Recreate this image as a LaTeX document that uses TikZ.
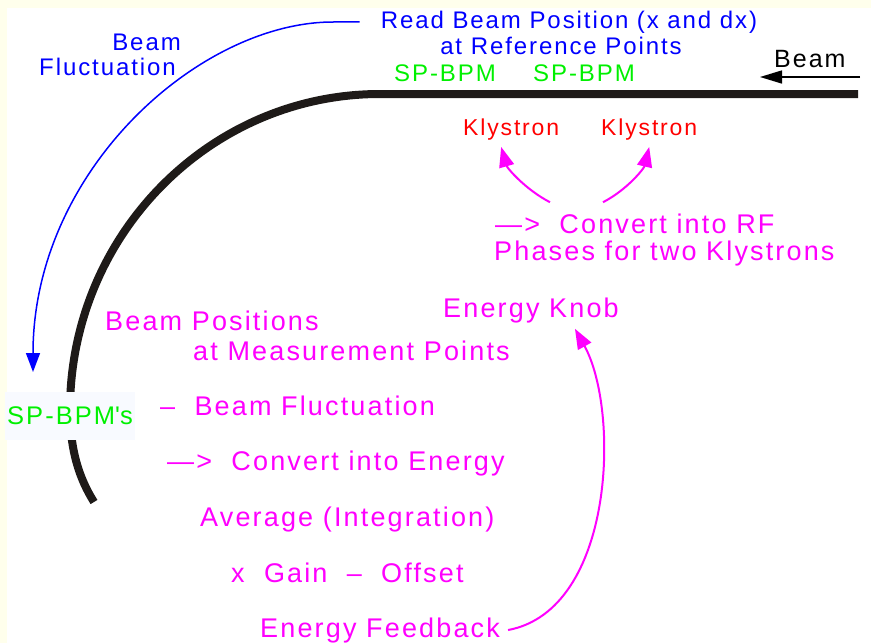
\documentclass[tikz,border=0pt]{standalone}
\usepackage{fontspec}
\setmainfont{Liberation Sans}[LetterSpace=8]
\usetikzlibrary{arrows.meta, positioning}
\definecolor{bpmgreen}{RGB}{0,240,0}
\definecolor{magtext}{RGB}{255,0,255}
\definecolor{beamblack}{RGB}{30,26,24}
\definecolor{cream}{RGB}{255,255,236}
\definecolor{labelbg}{RGB}{248,250,255}

\begin{document}
\begin{tikzpicture}[x=1pt, y=-1pt, >=Triangle]
    \tikzstyle{blue txt} = [text=blue, font=\fontsize{24}{26}\selectfont, inner sep=2pt]
    \tikzstyle{mag txt} = [text=magtext, font=\fontsize{27}{28}\selectfont, inner sep=2pt, anchor=base west]
    \tikzstyle{bpm txt} = [text=bpmgreen, font=\fontsize{24}{26}\selectfont, inner sep=2pt, anchor=base west]
    \tikzstyle{kly txt} = [text=red, font=\fontsize{23}{24}\selectfont, inner sep=2pt, anchor=base west]
    \tikzstyle{beam line} = [line width=8pt, draw=beamblack]
    \tikzstyle{fluct arrow} = [draw=blue, line width=1.5pt, -{Triangle[length=19pt, width=14pt]}]
    \tikzstyle{mag arrow} = [draw=magtext, line width=2pt, -{Triangle[length=20pt, width=15pt]}]
    \tikzstyle{beam arrow} = [draw=black, line width=1.5pt, -{Triangle[length=22pt, width=13pt]}]

    \useasboundingbox (0,0) rectangle (871,643);
    \fill[white] (0,0) rectangle (871,643);
    \fill[cream] (0,0) rectangle (871,8);
    \fill[cream] (0,0) rectangle (7,643);

    % the beam line and its arc
    \draw[beam line] (858,94) -- (380,94) .. controls (209,94) and (70,236) .. (70,410)
        .. controls (70,450) and (79,478) .. (94,502);

    % reference side
    \node[blue txt, anchor=base east] (fluct top) at (183,50) {Beam};
    \node[blue txt, anchor=base east] (fluct bot) at (178,75) {Fluctuation};
    \node[blue txt, anchor=base] (read) at (569,28) {Read Beam Position (x and dx)};
    \node[blue txt, anchor=base] (refpts) at (561,54) {at Reference Points};
    \node[bpm txt] (bpm one) at (392,81) {SP-BPM};
    \node[bpm txt] (bpm two) at (531,81) {SP-BPM};
    \node[font=\fontsize{25}{26}\selectfont, anchor=base west, inner sep=2pt] (beam lbl) at (772,67) {Beam};
    \node[kly txt] (kly one) at (461,135) {Klystron};
    \node[kly txt] (kly two) at (599,135) {Klystron};
    \node[bpm txt, font=\fontsize{25.5}{26}\selectfont, anchor=center, fill=labelbg, minimum height=48pt] (bpm arc) at (70,416) {SP-BPM\textquotesingle s};

    % feedback chain
    \node[mag txt] (rf) at (493,233) {—>~~Convert into RF};
    \node[mag txt] (phases) at (492,260) {Phases for two Klystrons};
    \node[mag txt] (knob) at (441,317) {Energy Knob};
    \node[mag txt] (bpos) at (103,330) {Beam Positions};
    \node[mag txt] (meas) at (191,360) {at Measurement Points};
    \node[mag txt] (minus) at (158,415) {–~~Beam Fluctuation};
    \node[mag txt] (conv) at (165,470) {—>~~Convert into Energy};
    \node[mag txt] (avg) at (198,526) {Average (Integration)};
    \node[mag txt] (gain) at (229,582) {x~~Gain~~–~~Offset};
    \node[mag txt] (feedback) at (258,637) {Energy Feedback};

    % arrows
    \coordinate[left=19pt of read] (fluct start);
    \coordinate (fluct end) at (33,372);
    \draw[fluct arrow] (fluct start) -- (333,22) .. controls (200,22) and (33,170) .. (fluct end);

    \coordinate (beam tail) at (860,77);
    \coordinate (beam head) at (760,77);
    \draw[beam arrow] (beam tail) -- (beam head);

    \draw[mag arrow] ([shift={(57pt,9pt)}]rf.north west) .. controls +(-25,-13) and +(6,21) .. ([shift={(-10pt,-5pt)}]kly one.south);
    \draw[mag arrow] ([shift={(110pt,9pt)}]rf.north west) .. controls +(25,-13) and +(-5,21) .. ([shift={(0pt,-5pt)}]kly two.south);
    \draw[mag arrow] ([xshift=6pt]feedback.east) .. controls (615,610) and (620,410) .. ([shift={(44pt,-4pt)}]knob.south);
\end{tikzpicture}
\end{document}
